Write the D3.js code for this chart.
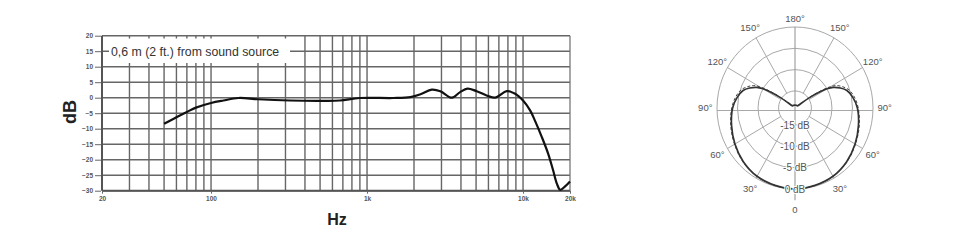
<!DOCTYPE html>
<html><head><meta charset="utf-8">
<script src="https://cdn.jsdelivr.net/npm/d3@7"></script>
<style>body{margin:0;background:#fff}svg{display:block}text{font-family:"Liberation Sans",Arial,sans-serif}</style>
</head><body><svg id="c" width="967" height="250"></svg>
<script>
// ---- Frequency response data ----
const freqHz = [50,60,70,80,100,120,150,200,320,520,670,900,1470,1900,2200,2600,2950,3500,3950,4400,5050,6600,7850,8900,10000,11100,11900,13200,14500,15600,16500,17300,18600,20000];
const responseDb = [-8.4,-6.3,-4.6,-3.2,-1.7,-0.9,-0.1,-0.5,-0.9,-1.0,-0.9,-0.1,-0.1,0.2,1.1,2.6,2.1,0,1.8,2.9,2.1,0,2.1,1.3,-0.9,-4.1,-7.3,-12.7,-18.1,-23.5,-27.8,-29.7,-28.6,-27.0];
const dbTicks = [20,15,10,5,0,-5,-10,-15,-20,-25,-30];
const freqTicks = [20,100,1000,10000,20000];
const freqTickLabels = ["20","100","1k","10k","20k"];
const annotation = "0,6 m (2 ft.) from sound source";

// ---- Polar pattern data ----
const polarAngles = [0,15,30,45,60,75,90,100,108,113,117.5,120,122,124.5,126,130,150,180];
const polarSolidDb = [0,-0.2,-0.5,-1.2,-2.1,-3.0,-3.8,-4.7,-5.7,-7.0,-8.5,-10.0,-11.8,-14.6,-17.0,-18.2,-18.3,-18.3];
const polarDashedDb = [0,-0.2,-0.5,-1.1,-2.0,-2.8,-3.6,-4.3,-5.2,-6.3,-7.6,-9.0,-10.8,-13.8,-16.5,-18.0,-18.3,-18.3];
const ringDb = [0,-5,-10,-15];
const ringLabels = ["0 dB","-5 dB","-10 dB","-15 dB"];
const spokeAngles = [30,60,120,150];
const angleLabels = [0,30,60,90,120,150,180];

const svg = d3.select("#c");

// ===== Frequency response chart =====
const x = d3.scaleLog().domain([20,20000]).range([102,570]);
const y = d3.scaleLinear().domain([-30,20]).range([190.7,35.7]);
const g = svg.append("g");

const gridFreqs = [];
[10,100,1000,10000].forEach(d=>{for(let k=1;k<10;k++){const f=d*k; if(f>20&&f<20000) gridFreqs.push(f);}});
g.selectAll("line.vg").data(gridFreqs).join("line")
  .attr("x1",d=>x(d)).attr("x2",d=>x(d)).attr("y1",y(20)).attr("y2",y(-30))
  .attr("stroke","#666").attr("stroke-width",1.4);
g.selectAll("line.hg").data(dbTicks).join("line")
  .attr("x1",x(20)).attr("x2",x(20000)).attr("y1",d=>y(d)).attr("y2",d=>y(d))
  .attr("stroke","#666").attr("stroke-width",1.4);
g.append("line").attr("x1",x(20)).attr("x2",x(20)).attr("y1",y(20)).attr("y2",y(-30)).attr("stroke","#555").attr("stroke-width",2);
g.append("line").attr("x1",x(20000)).attr("x2",x(20000)).attr("y1",y(20)).attr("y2",y(-30)).attr("stroke","#777").attr("stroke-width",1.3);
g.append("line").attr("x1",x(20)).attr("x2",x(20000)).attr("y1",y(-30)).attr("y2",y(-30)).attr("stroke","#555").attr("stroke-width",2);

g.append("rect").attr("x",109).attr("y",38.5).attr("width",181).attr("height",24.5).attr("fill","#fff");
g.append("text").attr("x",111).attr("y",y(15)+4.3).attr("font-size",12.3).attr("fill","#333").text(annotation);

const yAxis = d3.axisLeft(y).tickValues(dbTicks).tickSize(6).tickPadding(2);
const ya = g.append("g").attr("transform",`translate(${x(20)-1},0)`).call(yAxis);
ya.select(".domain").remove();
ya.selectAll("line").attr("stroke","#666");
ya.selectAll("text").attr("font-size",6.5).attr("fill","#555").attr("font-weight","bold");

const xAxis = d3.axisBottom(x).tickValues(freqTicks).tickFormat((d,i)=>freqTickLabels[i]).tickSize(3).tickPadding(3);
const xa = g.append("g").attr("transform",`translate(0,${y(-30)})`).call(xAxis);
xa.select(".domain").remove();
xa.selectAll("line").attr("stroke","#666");
xa.selectAll("text").attr("font-size",6.5).attr("fill","#555").attr("font-weight","bold");

g.append("text").attr("transform","translate(76,112) rotate(-90)").attr("text-anchor","middle")
  .attr("font-size",18).attr("font-weight","bold").attr("fill","#222").text("dB");
g.append("text").attr("x",337).attr("y",225).attr("text-anchor","middle")
  .attr("font-size",16).attr("font-weight","bold").attr("fill","#222").text("Hz");

const line = d3.line().x((d,i)=>x(freqHz[i])).y(d=>y(d)).curve(d3.curveCatmullRom);
g.append("path").attr("d",line(responseDb)).attr("fill","none").attr("stroke","#111").attr("stroke-width",2.2);

// ===== Polar chart =====
const cx = 795, cy = 108, rx = 78, ry = 81;
const rNorm = d3.scaleLinear().domain([-19,0]).range([0,1]).clamp(true);
const P = svg.append("g");
function pt(angDeg, rn, side){ const a = angDeg*Math.PI/180; return [cx + side*rn*rx*Math.sin(a), cy + rn*ry*Math.cos(a)]; }

P.selectAll("ellipse.ring").data(ringDb).join("ellipse")
  .attr("cx",cx).attr("cy",cy).attr("rx",d=>rNorm(d)*rx).attr("ry",d=>rNorm(d)*ry)
  .attr("fill","none").attr("stroke","#a8a8a8").attr("stroke-width",1);
spokeAngles.forEach(a=>{[-1,1].forEach(s=>{
  const p1 = pt(a, rNorm(-15), s), p2 = pt(a, 1, s);
  P.append("line").attr("x1",p1[0]).attr("y1",p1[1]).attr("x2",p2[0]).attr("y2",p2[1]).attr("stroke","#a8a8a8").attr("stroke-width",1);
});});
P.append("line").attr("x1",cx-rx).attr("x2",cx+rx).attr("y1",cy+2.5).attr("y2",cy+2.5).attr("stroke","#a8a8a8").attr("stroke-width",1);
P.append("line").attr("x1",cx).attr("x2",cx).attr("y1",cy-ry).attr("y2",cy+ry*1.14).attr("stroke","#999").attr("stroke-width",1.1);

angleLabels.forEach(a=>{
  const sides = (a===0||a===180)?[1]:[-1,1];
  sides.forEach(s=>{
    const rr = a===0?1.25:(a===180?1.1:1.15);
    const p = pt(a, rr, s);
    P.append("text").attr("x",p[0]).attr("y",p[1]).attr("dy","0.35em").attr("text-anchor","middle")
      .attr("font-size",9.5).attr("fill","#555").text(a===0?"0":a+"°");
  });
});

const polarLine = (arr)=>{
  const pts = [];
  for(let i=polarAngles.length-1;i>=0;i--) pts.push(pt(polarAngles[i], rNorm(arr[i]), -1));
  for(let i=1;i<polarAngles.length;i++) pts.push(pt(polarAngles[i], rNorm(arr[i]), 1));
  return d3.line().curve(d3.curveCatmullRom)(pts);
};
P.append("path").attr("d",polarLine(polarDashedDb)).attr("fill","none").attr("stroke","#444").attr("stroke-width",1).attr("stroke-dasharray","3,2");
P.append("path").attr("d",polarLine(polarSolidDb)).attr("fill","none").attr("stroke","#333").attr("stroke-width",1.7);

ringDb.forEach((d,i)=>{
  P.append("text").attr("x",cx).attr("y",cy+rNorm(d)*ry).attr("dy","0.35em").attr("text-anchor","middle")
    .attr("font-size",10).attr("fill","#555").attr("stroke","#fff").attr("stroke-width",2).attr("paint-order","stroke")
    .text(ringLabels[i]);
});
</script></body></html>
